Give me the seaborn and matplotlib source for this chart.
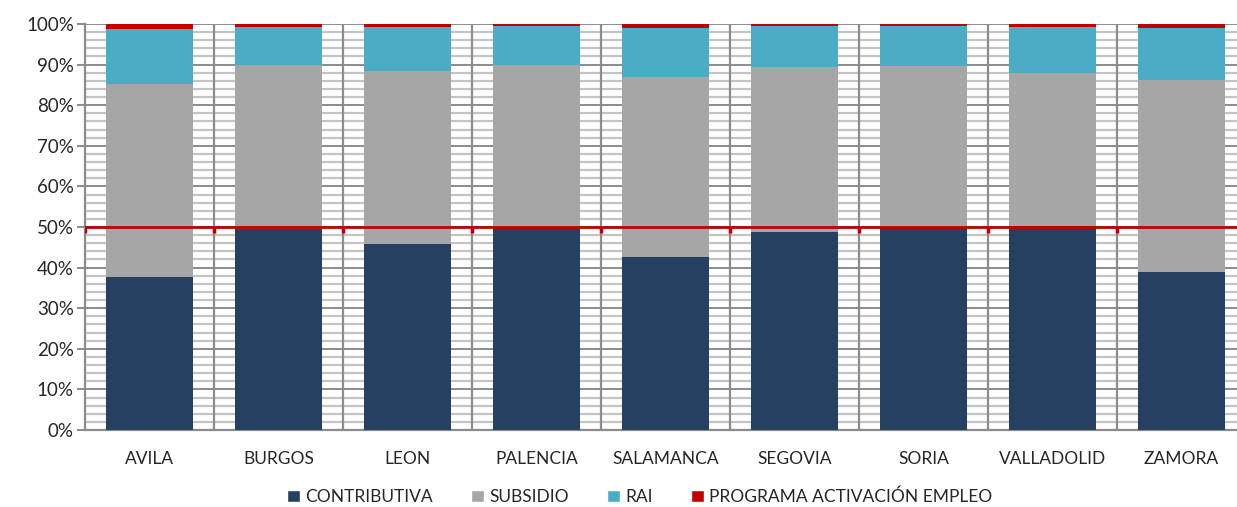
import numpy as np
import pandas as pd
import matplotlib
matplotlib.use("Agg")
import matplotlib.pyplot as plt
import seaborn as sns
from matplotlib.patches import Patch
from matplotlib.ticker import MultipleLocator, PercentFormatter

# Datos (porcentaje por provincia)
provincias = ["AVILA", "BURGOS", "LEON", "PALENCIA", "SALAMANCA",
              "SEGOVIA", "SORIA", "VALLADOLID", "ZAMORA"]
contributiva = [37.7, 49.5, 45.8, 49.8, 42.6, 48.8, 49.9, 50.2, 39.0]
subsidio = [47.5, 40.4, 42.6, 40.1, 44.4, 40.6, 39.8, 37.7, 47.2]
rai = [13.6, 9.4, 10.9, 9.6, 12.0, 10.1, 9.8, 11.4, 12.8]
pae = [1.2, 0.7, 0.7, 0.5, 1.0, 0.5, 0.5, 0.7, 1.0]
referencia = 50

series = ["CONTRIBUTIVA", "SUBSIDIO", "RAI", "PROGRAMA ACTIVACIÓN EMPLEO"]
colores = ["#264061", "#A6A6A6", "#4BACC6", "#C00000"]

df = pd.DataFrame({"provincia": provincias, "CONTRIBUTIVA": contributiva,
                   "SUBSIDIO": subsidio, "RAI": rai,
                   "PROGRAMA ACTIVACIÓN EMPLEO": pae})
acum = df[series].cumsum(axis=1)
acum = acum.div(acum[series[-1]], axis=0) * 100
acum["provincia"] = df["provincia"]

sns.set_style("white")
plt.rcParams["font.family"] = ["Lato", "DejaVu Sans"]

fig = plt.figure(figsize=(12.37, 5.07), dpi=100)
ax = fig.add_axes([85 / 1237, 77 / 507, 1 - 85 / 1237, 406 / 507])

# barras apiladas: de la capa superior a la inferior
for s, c in reversed(list(zip(series, colores))):
    sns.barplot(data=acum, x="provincia", y=s, color=c, width=0.67,
                saturation=1, linewidth=0, ax=ax, zorder=3)

n = len(provincias)
ax.set_xlim(-0.5, -0.5 + 1152 / 129)
ax.set_ylim(0, 100)

# rejilla
ax.yaxis.set_major_locator(MultipleLocator(10))
ax.yaxis.set_minor_locator(MultipleLocator(2))
ax.yaxis.set_major_formatter(PercentFormatter(decimals=0))
ax.xaxis.set_minor_locator(matplotlib.ticker.NullLocator())
ax.grid(which="minor", axis="y", color="#C4C4C4", lw=1.6, zorder=0)
ax.grid(which="major", axis="y", color="#8C8C8C", lw=1.4, zorder=0)
limites = np.arange(n + 1) - 0.5
for b in limites[1:]:
    ax.axvline(b, color="#8C8C8C", lw=1.6, zorder=1)

# línea del 50%
ax.axhline(referencia, color="#C00000", lw=2, zorder=5)
ax.vlines(limites, referencia - 1.5, referencia, color="#C00000", lw=2.5, zorder=5)

for sp in ["top", "right"]:
    ax.spines[sp].set_visible(False)
for sp in ["left", "bottom"]:
    ax.spines[sp].set_color("#8C8C8C")
    ax.spines[sp].set_linewidth(1.6)

ax.set_xlabel("")
ax.set_ylabel("")
ax.tick_params(axis="y", which="major", length=6, width=1.4, color="#8C8C8C",
               labelsize=13.5, pad=2, left=True)
ax.tick_params(axis="y", which="minor", length=0)
ax.tick_params(axis="x", length=0, labelsize=12.5, pad=15)

handles = [Patch(facecolor=c, label=s) for s, c in zip(series, colores)]
fig.legend(handles=handles, loc="center", bbox_to_anchor=(0.517, 0.02),
           ncol=4, frameon=False, fontsize=12.5, handlelength=0.75,
           handleheight=0.75, handletextpad=0.3, columnspacing=2.2)

fig.savefig("out.png", dpi=100)
